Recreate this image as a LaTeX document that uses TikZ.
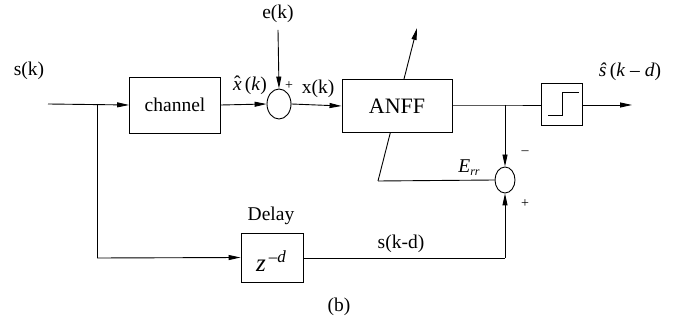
\documentclass[tikz,border=0pt]{standalone}
\usepackage{fontspec}
\setmainfont{Liberation Serif}
\usetikzlibrary{arrows.meta,shapes.geometric}
\newcommand{\xhatsym}{{\ooalign{\textit{x}\cr\hidewidth\raisebox{1pt}{ˆ}\hidewidth\cr}}}
\begin{document}
\begin{tikzpicture}[x=1pt,y=-1pt,
  every node/.style={font=\fontsize{19.5}{22}\selectfont},
  blk/.style={draw,line width=0.9pt,rectangle,inner sep=0pt,fill=white},
  sumc/.style={draw,line width=0.9pt,ellipse,inner sep=0pt},
  lbl/.style={inner sep=0pt},
  arr/.style={-{Triangle[length=12pt,width=5pt]}},
  line width=0.9pt]
\useasboundingbox (0,0) rectangle (679,328);
% adaptation arrow (drawn first, hidden inside the ANFF block)
\coordinate (adlo) at (378,181);
\coordinate (adhi) at (417,28);
\draw[arr] (adlo) -- (adhi);
% nodes
\node[lbl] (sk) at (29,71) {s(k)};
\coordinate (start) at (48,104);
\coordinate (br) at (97,104);
\coordinate (brd) at (97,258);
\node[blk,minimum width=91pt,minimum height=56pt] (ch) at (175,105) {channel};
\node[sumc,minimum width=24pt,minimum height=30pt] (s1) at (279,104) {};
\node[lbl] (ek) at (278,14) {e(k)};
\coordinate (ektop) at (278,30);
\node[blk,minimum width=110pt,minimum height=53pt,font=\fontsize{22}{24}\selectfont] (anff) at (397,106) {ANFF};
\coordinate (split) at (505,105);
\node[blk,minimum width=41pt,minimum height=42pt] (thr) at (562,104) {};
\coordinate (out) at (632,105);
\node[sumc,minimum width=20pt,minimum height=26pt] (s2) at (505,180) {};
\node[blk,minimum width=62pt,minimum height=49pt] (dl) at (272,257.5) {};
\node[lbl] at (271,261) {\fontsize{25}{25}\selectfont\textit{z}\raisebox{9pt}{\fontsize{17}{17}\selectfont\textit{\,--d}}};
\coordinate (bc) at (505,258);
% labels
\node[lbl] (xh) at (250,86) {\xhatsym\,(\textit{k})};
\node[lbl] (p1) at (289,86) {\fontsize{14}{14}\selectfont +};
\node[lbl] (xk) at (318,89) {x(k)};
\node[lbl] (shat) at (630,72) {\textit{ŝ}\,(\textit{k} -- \textit{d})};
\node[lbl] (err) at (469,168) {\textit{E}\raisebox{-3pt}{\fontsize{12}{12}\selectfont\textit{rr}}};
\node[lbl] (mi) at (525,153) {\fontsize{14}{14}\selectfont --};
\node[lbl] (p2) at (525,204) {\fontsize{14}{14}\selectfont +};
\node[lbl] (delay) at (271,216) {Delay};
\node[lbl] (skd) at (401,244) {s(k-d)};
\node[lbl] (b) at (339,307) {(b)};
% step symbol
\draw ([shift={(-14pt,-11pt)}]thr.center) -- ([shift={(0pt,-11pt)}]thr.center) -- ([shift={(0pt,12pt)}]thr.center) -- ([shift={(17pt,12pt)}]thr.center);
% connectors
\draw[arr] (start) -- (ch.west);
\draw (br) -- (brd);
\draw[arr] (brd) -- (dl.west);
\draw[arr] (ch.east) -- (s1.west);
\draw[arr] (ektop) -- (s1.north);
\draw[arr] (s1.east) -- (anff.west);
\draw (anff.east |- split) -- (split) -- (thr.west |- split);
\draw[arr] (split) -- (s2.north);
\draw[arr] (thr.east |- out) -- (out);
\draw (dl.east |- bc) -- (bc);
\draw[arr] (bc) -- (s2.south);
\draw (s2.west) -- (adlo);
\end{tikzpicture}
\end{document}
